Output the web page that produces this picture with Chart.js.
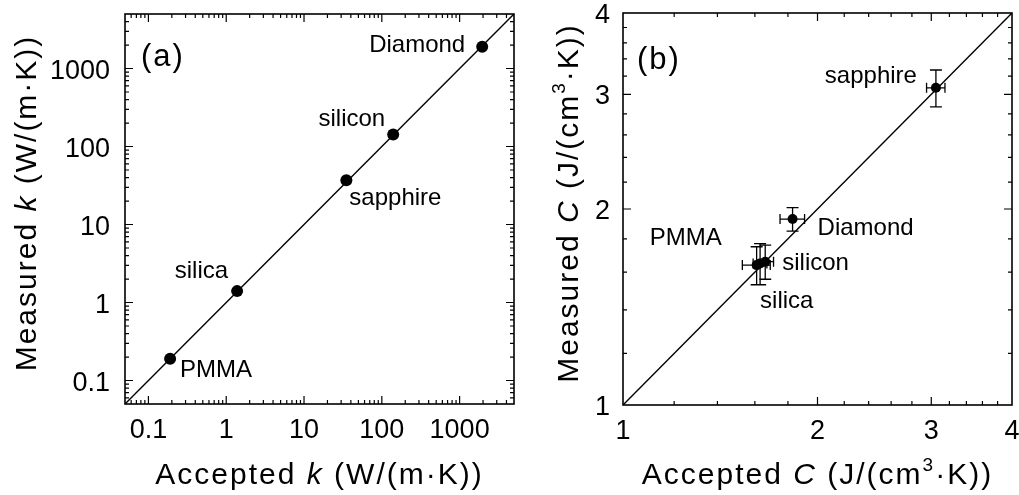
<!DOCTYPE html>
<html>
<head>
<meta charset="utf-8">
<script src="https://cdn.jsdelivr.net/npm/chart.js@4"></script>
<style>
body { margin: 0; background: #fff; }
#wrap { position: relative; width: 1019px; height: 495px; overflow: hidden; }
#chart-a { position: absolute; left: 0; top: 0; }
#chart-b { position: absolute; left: 520px; top: 0; }
</style>
</head>
<body>
<div id="wrap">
<canvas id="chart-a" width="520" height="495"></canvas>
<canvas id="chart-b" width="499" height="495"></canvas>
</div>
<script>
// (a) thermal conductivity, W/(m.K)
var materials_a = ["PMMA", "silica", "sapphire", "silicon", "Diamond"];
var accepted_k = [0.19, 1.38, 35, 140, 1950];
var measured_k = [0.19, 1.40, 37, 143, 1900];
var range_k = [0.05, 5000];
var ticks_k = [0.1, 1, 10, 100, 1000];

// (b) volumetric heat capacity, J/(cm3.K)
var materials_b = ["PMMA", "silica", "silicon", "Diamond", "sapphire"];
var accepted_c = [1.61, 1.63, 1.66, 1.83, 3.05];
var accepted_c_err = [0.08, 0.04, 0.05, 0.08, 0.10];
var measured_c = [1.64, 1.65, 1.66, 1.93, 3.07];
var measured_c_err = [0.11, 0.12, 0.10, 0.08, 0.20];
var range_c = [1, 4];
var ticks_c = [1, 2, 3, 4];

// label placement relative to each point: dx, dy, align
var labelPos_a = {
    PMMA: [10, 18, 'left'],
    silica: [-9, -13, 'right'],
    sapphire: [3, 25, 'left'],
    silicon: [-8, -8, 'right'],
    Diamond: [-17, 5, 'right']
};
var labelPos_b = {
    PMMA: [-35, -20, 'right'],
    silica: [0, 45, 'left'],
    silicon: [17, 8, 'left'],
    Diamond: [25, 16, 'left'],
    sapphire: [-19, -5, 'right']
};

var FONT = '"Liberation Sans", Arial, sans-serif';

// minor ticks
var minor_k = [];
for (let e = -2; e <= 3; e++) {
    for (let m = 2; m <= 9; m++) {
        const v = m * Math.pow(10, e);
        if (v > range_k[0] && v < range_k[1]) minor_k.push(v);
    }
}
var minor_c = [];
for (let i = 1; i <= 14; i++) {
    const v = Math.round((1 + i * 0.2) * 10) / 10;
    if (ticks_c.indexOf(v) < 0 && v < range_c[1]) minor_c.push(v);
}

function drawRuns(ctx, runs, cx, cy, size, rotate, spacing) {
    ctx.save();
    ctx.translate(cx, cy);
    if (rotate) ctx.rotate(-Math.PI / 2);
    ctx.letterSpacing = spacing + 'px';
    ctx.fillStyle = '#000';
    ctx.textAlign = 'left';
    ctx.textBaseline = 'alphabetic';
    const fontOf = r => (r.it ? 'italic ' : '') + (r.sup ? Math.round(size * 0.62) : size) + 'px ' + FONT;
    let widths = [];
    let total = 0;
    runs.forEach(r => {
        ctx.font = fontOf(r);
        const w = ctx.measureText(r.t).width;
        widths.push(w);
        total += w;
    });
    let x = -total / 2;
    runs.forEach((r, i) => {
        ctx.font = fontOf(r);
        ctx.fillText(r.t, x, r.sup ? -size * 0.42 : 0);
        x += widths[i];
    });
    ctx.restore();
}

// box, inward ticks on all four sides, tick labels
function framePlugin(majors, minors, yLabGap) {
    return {
        id: 'frame',
        afterDatasetsDraw(chart) {
            const ctx = chart.ctx, a = chart.chartArea;
            const x = chart.scales.x, y = chart.scales.y;
            ctx.save();
            ctx.strokeStyle = '#000';
            ctx.lineWidth = 1.2;
            ctx.beginPath();
            const mark = (v, len) => {
                const px = x.getPixelForValue(v), py = y.getPixelForValue(v);
                if (px > a.left + 1 && px < a.right - 1) {
                    ctx.moveTo(px, a.bottom); ctx.lineTo(px, a.bottom - len);
                    ctx.moveTo(px, a.top); ctx.lineTo(px, a.top + len);
                }
                if (py > a.top + 1 && py < a.bottom - 1) {
                    ctx.moveTo(a.left, py); ctx.lineTo(a.left + len, py);
                    ctx.moveTo(a.right, py); ctx.lineTo(a.right - len, py);
                }
            };
            majors.forEach(v => mark(v, 8));
            minors.forEach(v => mark(v, 4));
            ctx.stroke();
            ctx.lineWidth = 1.6;
            ctx.strokeRect(a.left, a.top, a.right - a.left, a.bottom - a.top);

            ctx.fillStyle = '#000';
            ctx.font = '27px ' + FONT;
            ctx.textBaseline = 'alphabetic';
            majors.forEach(v => {
                ctx.textAlign = 'center';
                ctx.fillText(String(v), x.getPixelForValue(v), a.bottom + 34);
                ctx.textAlign = 'right';
                ctx.fillText(String(v), a.left - yLabGap, y.getPixelForValue(v) + 10);
            });
            ctx.restore();
        }
    };
}

function errorBarPlugin(xs, xe, ys, ye) {
    return {
        id: 'errbars',
        afterDatasetsDraw(chart) {
            const ctx = chart.ctx;
            const x = chart.scales.x, y = chart.scales.y;
            ctx.save();
            ctx.strokeStyle = '#000';
            ctx.lineWidth = 1.3;
            ctx.beginPath();
            for (let i = 0; i < xs.length; i++) {
                const px = x.getPixelForValue(xs[i]), py = y.getPixelForValue(ys[i]);
                const x0 = x.getPixelForValue(xs[i] - xe[i]), x1 = x.getPixelForValue(xs[i] + xe[i]);
                const y0 = y.getPixelForValue(ys[i] - ye[i]), y1 = y.getPixelForValue(ys[i] + ye[i]);
                ctx.moveTo(x0, py); ctx.lineTo(x1, py);
                ctx.moveTo(x0, py - 5); ctx.lineTo(x0, py + 5);
                ctx.moveTo(x1, py - 5); ctx.lineTo(x1, py + 5);
                ctx.moveTo(px, y0); ctx.lineTo(px, y1);
                ctx.moveTo(px - 6, y0); ctx.lineTo(px + 6, y0);
                ctx.moveTo(px - 6, y1); ctx.lineTo(px + 6, y1);
            }
            ctx.stroke();
            ctx.restore();
        }
    };
}

function textPlugin(names, xs, ys, pos, panel, panelX, panelY, xTitle, yTitle, yTitleX) {
    return {
        id: 'texts',
        afterDraw(chart) {
            const ctx = chart.ctx, a = chart.chartArea;
            const x = chart.scales.x, y = chart.scales.y;
            ctx.save();
            ctx.fillStyle = '#000';
            ctx.font = '24px ' + FONT;
            ctx.textBaseline = 'alphabetic';
            names.forEach((n, i) => {
                const p = pos[n];
                ctx.textAlign = p[2];
                ctx.fillText(n, x.getPixelForValue(xs[i]) + p[0], y.getPixelForValue(ys[i]) + p[1]);
            });
            ctx.textAlign = 'left';
            ctx.letterSpacing = '2px';
            ctx.font = '31px ' + FONT;
            ctx.fillText(panel, panelX, panelY);
            ctx.restore();
            drawRuns(ctx, xTitle, (a.left + a.right) / 2, 484, 30, false, 2);
            drawRuns(ctx, yTitle, yTitleX, (a.top + a.bottom) / 2 - 6, 30, true, 2);
        }
    };
}

function makeChart(id, o) {
    const pts = o.xs.map((v, i) => ({ x: v, y: o.ys[i] }));
    const diag = o.range.map(v => ({ x: v, y: v }));
    const axis = (pos, size) => ({
        type: 'logarithmic',
        position: pos,
        min: o.range[0],
        max: o.range[1],
        grid: { display: false, drawTicks: false },
        border: { display: false },
        ticks: { display: false },
        afterFit: s => {
            if (pos === 'left') s.width = size; else s.height = size;
        }
    });
    return new Chart(document.getElementById(id), {
        type: 'scatter',
        data: {
            datasets: [{
                data: diag,
                showLine: true,
                borderColor: '#000',
                borderWidth: 1.4,
                pointRadius: 0
            }, {
                data: pts,
                backgroundColor: '#000',
                borderColor: '#000',
                pointRadius: o.radius,
                borderWidth: 0
            }]
        },
        options: {
            responsive: false,
            animation: false,
            events: [],
            layout: { padding: o.padding },
            plugins: { legend: { display: false }, tooltip: { enabled: false } },
            scales: {
                x: axis('bottom', o.xHeight),
                y: axis('left', o.yWidth)
            }
        },
        plugins: o.plugins
    });
}

makeChart('chart-a', {
    xs: accepted_k, ys: measured_k, range: range_k,
    radius: 6, yWidth: 125, xHeight: 91,
    padding: { left: 0, right: 4, top: 14, bottom: 0 },
    plugins: [
        framePlugin(ticks_k, minor_k, 15),
        textPlugin(materials_a, accepted_k, measured_k, labelPos_a, '(a)', 141, 66,
            [{ t: 'Accepted ' }, { t: 'k', it: true }, { t: ' (W/(m·K))' }],
            [{ t: 'Measured ' }, { t: 'k', it: true }, { t: ' (W/(m·K))' }], 36)
    ]
});

makeChart('chart-b', {
    xs: accepted_c, ys: measured_c, range: range_c,
    radius: 5, yWidth: 103, xHeight: 90,
    padding: { left: 0, right: 7, top: 13, bottom: 0 },
    plugins: [
        errorBarPlugin(accepted_c, accepted_c_err, measured_c, measured_c_err),
        framePlugin(ticks_c, minor_c, 13),
        textPlugin(materials_b, accepted_c, measured_c, labelPos_b, '(b)', 117, 69,
            [{ t: 'Accepted ' }, { t: 'C', it: true }, { t: ' (J/(cm' }, { t: '3', sup: true }, { t: '·K))' }],
            [{ t: 'Measured ' }, { t: 'C', it: true }, { t: ' (J/(cm' }, { t: '3', sup: true }, { t: '·K))' }], 58)
    ]
});
</script>
</body>
</html>
